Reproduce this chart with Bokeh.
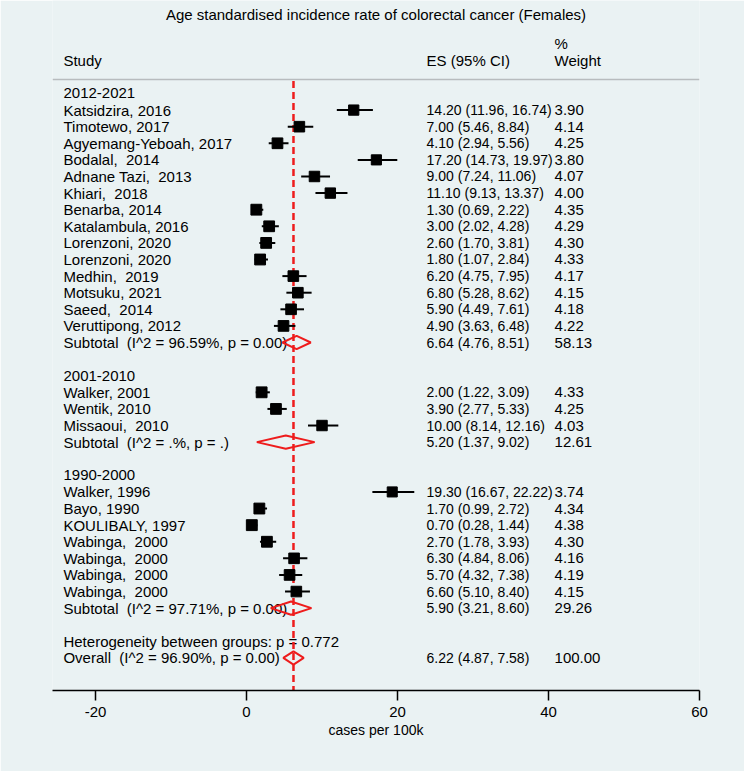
import math
from bokeh.plotting import figure
from bokeh.models import Range1d, FixedTicker, Span, ColumnDataSource, PrintfTickFormatter
from bokeh.core.properties import value
from bokeh.embed import file_html
from bokeh.resources import INLINE

# ---------------- data ----------------
title_text = "Age standardised incidence rate of colorectal cancer (Females)"
x_label = "cases per 100k"
x_ticks = [-20, 0, 20, 40, 60]
header_study = "Study"
header_es = "ES (95% CI)"
header_pct = "%"
header_weight = "Weight"

g1_name = "2012-2021"
g1_studies = ["Katsidzira, 2016", "Timotewo, 2017", "Agyemang-Yeboah, 2017", "Bodalal,  2014",
              "Adnane Tazi,  2013", "Khiari,  2018", "Benarba, 2014", "Katalambula, 2016",
              "Lorenzoni, 2020", "Lorenzoni, 2020", "Medhin,  2019", "Motsuku, 2021",
              "Saeed,  2014", "Veruttipong, 2012"]
g1_es = [14.20, 7.00, 4.10, 17.20, 9.00, 11.10, 1.30, 3.00, 2.60, 1.80, 6.20, 6.80, 5.90, 4.90]
g1_lo = [11.96, 5.46, 2.94, 14.73, 7.24, 9.13, 0.69, 2.02, 1.70, 1.07, 4.75, 5.28, 4.49, 3.63]
g1_hi = [16.74, 8.84, 5.56, 19.97, 11.06, 13.37, 2.22, 4.28, 3.81, 2.84, 7.95, 8.62, 7.61, 6.48]
g1_wt = [3.90, 4.14, 4.25, 3.80, 4.07, 4.00, 4.35, 4.29, 4.30, 4.33, 4.17, 4.15, 4.18, 4.22]
g1_sub_label = "Subtotal  (I^2 = 96.59%, p = 0.00)"
g1_sub = [6.64, 4.76, 8.51, 58.13]

g2_name = "2001-2010"
g2_studies = ["Walker, 2001", "Wentik, 2010", "Missaoui,  2010"]
g2_es = [2.00, 3.90, 10.00]
g2_lo = [1.22, 2.77, 8.14]
g2_hi = [3.09, 5.33, 12.16]
g2_wt = [4.33, 4.25, 4.03]
g2_sub_label = "Subtotal  (I^2 = .%, p = .)"
g2_sub = [5.20, 1.37, 9.02, 12.61]

g3_name = "1990-2000"
g3_studies = ["Walker, 1996", "Bayo, 1990", "KOULIBALY, 1997", "Wabinga,  2000",
              "Wabinga,  2000", "Wabinga,  2000", "Wabinga,  2000"]
g3_es = [19.30, 1.70, 0.70, 2.70, 6.30, 5.70, 6.60]
g3_lo = [16.67, 0.99, 0.28, 1.78, 4.84, 4.32, 5.10]
g3_hi = [22.22, 2.72, 1.44, 3.93, 8.06, 7.38, 8.40]
g3_wt = [3.74, 4.34, 4.38, 4.30, 4.16, 4.19, 4.15]
g3_sub_label = "Subtotal  (I^2 = 97.71%, p = 0.00)"
g3_sub = [5.90, 3.21, 8.60, 29.26]

het_label = "Heterogeneity between groups: p = 0.772"
overall_label = "Overall  (I^2 = 96.90%, p = 0.00)"
overall = [6.22, 4.87, 7.58, 100.00]

# ---------------- layout / style ----------------
BG = "#EAF2F3"
RED = "#EE1C1C"
FONT = "Liberation Sans"
X_START, X_END = -25.7, 60.0
Y_BOTTOM, Y_TOP = 36.96, -4.6
COL_LABEL, COL_ES, COL_WT = -24.25, 23.85, 40.8

def keep_spaces(s):
    # keep doubled spaces visible in SVG text
    return s.replace("  ", " \u00a0")

groups = [
    (g1_name, g1_studies, g1_es, g1_lo, g1_hi, g1_wt, g1_sub_label, g1_sub),
    (g2_name, g2_studies, g2_es, g2_lo, g2_hi, g2_wt, g2_sub_label, g2_sub),
    (g3_name, g3_studies, g3_es, g3_lo, g3_hi, g3_wt, g3_sub_label, g3_sub),
]

lab_txt, lab_y = [], []
es_txt, wt_txt, stat_y = [], [], []
st_es, st_lo, st_hi, st_wt, st_y = [], [], [], [], []
dia_xs, dia_ys = [], []

def fmt_es(e, l, h):
    return "%.2f (%.2f, %.2f)" % (e, l, h)

def add_diamond(e, l, h, r):
    dia_xs.append([l, e, h, e])
    dia_ys.append([r, r - 0.4, r, r + 0.4])

row = 1
for name, studies, es, lo, hi, wt, sub_label, sub in groups:
    lab_txt.append(name); lab_y.append(row); row += 1
    for s, e, l, h, w in zip(studies, es, lo, hi, wt):
        lab_txt.append(keep_spaces(s)); lab_y.append(row)
        es_txt.append(fmt_es(e, l, h)); wt_txt.append("%.2f" % w); stat_y.append(row)
        st_es.append(e); st_lo.append(l); st_hi.append(h); st_wt.append(w); st_y.append(row)
        row += 1
    lab_txt.append(keep_spaces(sub_label)); lab_y.append(row)
    es_txt.append(fmt_es(*sub[:3])); wt_txt.append("%.2f" % sub[3]); stat_y.append(row)
    add_diamond(sub[0], sub[1], sub[2], row)
    row += 2
lab_txt.append(het_label); lab_y.append(row); row += 1
lab_txt.append(keep_spaces(overall_label)); lab_y.append(row)
es_txt.append(fmt_es(*overall[:3])); wt_txt.append("%.2f" % overall[3]); stat_y.append(row)
add_diamond(overall[0], overall[1], overall[2], row)

p = figure(width=744, height=771, output_backend="svg", toolbar_location=None,
           x_range=Range1d(X_START, X_END), y_range=Range1d(Y_BOTTOM, Y_TOP),
           y_axis_location=None, title=None,
           min_border_left=52, min_border_right=45, min_border_top=0, min_border_bottom=81)
p.background_fill_color = BG
p.border_fill_color = BG
p.outline_line_color = None
p.grid.visible = False

# texts
mid_x = (X_START + X_END) / 2
p.text(x=[mid_x], y=[-3.76], text=[title_text], text_font=value(FONT), text_font_size="15px",
       text_align="center", text_baseline="middle", text_color="black")
p.text(x=[COL_LABEL, COL_ES, COL_WT], y=[-1, -1, -1], text=[header_study, header_es, header_weight],
       text_font=value(FONT), text_font_size="15px", text_baseline="middle", text_color="black")
p.text(x=[COL_WT], y=[-2], text=[header_pct], text_font=value(FONT), text_font_size="15px",
       text_baseline="middle", text_color="black")
p.text(x=[COL_LABEL] * len(lab_txt), y=lab_y, text=lab_txt, text_font=value(FONT),
       text_font_size="15px", text_baseline="middle", text_color="black")
p.text(x=[COL_ES] * len(es_txt), y=stat_y, text=es_txt, text_font=value(FONT),
       text_font_size="14px", text_baseline="middle", text_color="black")
p.text(x=[COL_WT] * len(wt_txt), y=stat_y, text=wt_txt, text_font=value(FONT),
       text_font_size="15px", text_baseline="middle", text_color="black")

# header rule
p.add_layout(Span(location=0.16, dimension="width", line_color="#B8BCBE", line_width=1.5))

# reference (overall) dashed line
p.segment(x0=[overall[0]], y0=[0.25], x1=[overall[0]], y1=[Y_BOTTOM],
          line_color=RED, line_width=2.5, line_dash="7 4")

# studies
src = ColumnDataSource(dict(es=st_es, lo=st_lo, hi=st_hi, y=st_y,
                            size=[5.2 * math.sqrt(w) for w in st_wt]))
p.segment(x0="lo", y0="y", x1="hi", y1="y", source=src, line_color="black", line_width=2)
p.scatter(x="es", y="y", size="size", marker="square", source=src,
          fill_color="black", line_color="black")

# pooled diamonds
p.patches(xs=dia_xs, ys=dia_ys, fill_color=None, line_color=RED, line_width=2)

# x axis
ax = p.xaxis[0]
ax.ticker = FixedTicker(ticks=x_ticks)
ax.formatter = PrintfTickFormatter(format="%d")
ax.axis_line_color = "black"
ax.axis_line_width = 1.5
ax.major_tick_line_color = "black"
ax.major_tick_line_width = 1.5
ax.major_tick_out = 10
ax.major_tick_in = 0
ax.minor_tick_out = 0
ax.minor_tick_in = 0
ax.major_label_text_font = FONT
ax.major_label_text_font_size = "15px"
ax.major_label_text_color = "black"
ax.major_label_standoff = 6
ax.axis_label = x_label
ax.axis_label_text_font = FONT
ax.axis_label_text_font_size = "14px"
ax.axis_label_text_font_style = "normal"
ax.axis_label_text_color = "black"
ax.axis_label_standoff = 2

open("out.html", "w").write(file_html(p, INLINE))
